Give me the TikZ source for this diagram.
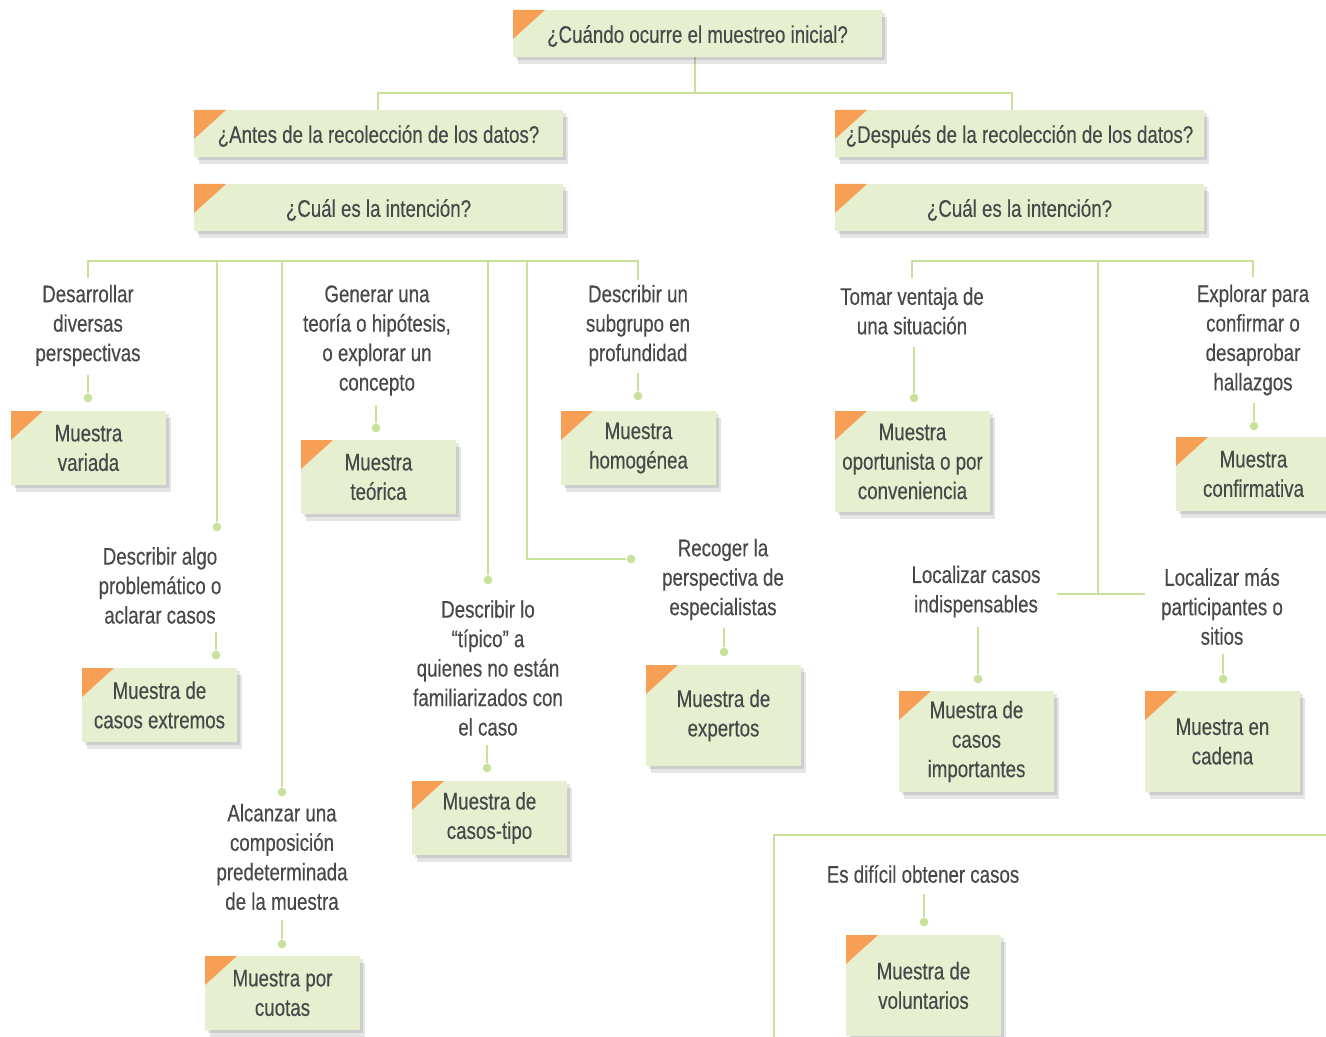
\documentclass[tikz,border=0pt]{standalone}
\usepackage{fontspec}
\setmainfont{Liberation Sans}[FakeStretch=0.78,FakeBold=0.3]
\usetikzlibrary{shadows}
\definecolor{lgreen}{RGB}{200,225,155}
\definecolor{boxfill}{RGB}{230,239,208}
\definecolor{corner}{RGB}{247,160,85}
\definecolor{txt}{RGB}{72,72,72}
\pgfdeclarelayer{paper}
\pgfdeclarelayer{bg}
\pgfsetlayers{paper,bg,main}
\begin{document}
\begin{tikzpicture}[x=0.75pt,y=-0.75pt,
  every node/.style={text=txt,font=\fontsize{18}{22.1}\selectfont},
  qbox/.style={fill=boxfill,minimum width=276.75pt,minimum height=35.25pt,inner sep=0pt,align=center,
    drop shadow={shadow xshift=2pt,shadow yshift=-2.5pt,fill=black,opacity=0.10},
    drop shadow={shadow xshift=4pt,shadow yshift=-5pt,fill=black,opacity=0.10},
    path picture={\fill[corner] (path picture bounding box.north west) -- ++(24pt,0pt) -- ++(-24pt,-21.75pt) -- cycle;}},
  qline/.style={qbox,text height=18pt,text depth=4pt},
  mbox/.style={qbox,minimum width=116.25pt,minimum height=55.5pt},
  mboxt/.style={qbox,minimum width=116.25pt,minimum height=75.75pt},
  lbl/.style={align=center,inner sep=0pt},
  dot/.style={circle,fill=lgreen,inner sep=0pt,minimum size=6.5pt},
  conn/.style={draw=lgreen,line width=2pt}
]
\useasboundingbox (0,0) rectangle (1326,1037);
\begin{pgfonlayer}{paper}
\fill[white] (0,0) rectangle (1326,1037);
\end{pgfonlayer}

% question boxes
\node[qline] (q0) at (697.5,33.5) {¿Cuándo ocurre el muestreo inicial?};
\node[qline] (qa) at (378.5,133.5) {¿Antes de la recolección de los datos?};
\node[qline] (qb) at (378.5,207.5) {¿Cuál es la intención?};
\node[qline] (qc) at (1019.5,133.5) {¿Después de la recolección de los datos?};
\node[qline] (qd) at (1019.5,207.5) {¿Cuál es la intención?};

% labels
\node[lbl] (t1) at (88,325.5) {Desarrollar\\diversas\\perspectivas};
\node[lbl] (t2) at (377,340.5) {Generar una\\teoría o hipótesis,\\o explorar un\\concepto};
\node[lbl] (t3) at (638,325.5) {Describir un\\subgrupo en\\profundidad};
\node[lbl] (t4) at (160,585.5) {Describir algo\\problemático o\\aclarar casos};
\node[lbl] (t5) at (282,857) {Alcanzar una\\composición\\predeterminada\\de la muestra};
\node[lbl] (t6) at (488,668) {Describir lo\\“típico” a\\quienes no están\\familiarizados con\\el caso};
\node[lbl] (t7) at (723,579.5) {Recoger la\\perspectiva de\\especialistas};
\node[lbl] (t8) at (912,311) {Tomar ventaja de\\una situación};
\node[lbl] (t9) at (1253,340) {Explorar para\\confirmar o\\desaprobar\\hallazgos};
\node[lbl] (t10) at (976,591.5) {Localizar casos\\indispensables};
\node[lbl] (t11) at (1222,606.5) {Localizar más\\participantes o\\sitios};
\node[lbl] (t12) at (923,874) {Es difícil obtener casos};

% sample boxes
\node[mbox] (b1) at (88.5,448) {Muestra\\variada};
\node[mbox] (b2) at (378.5,477) {Muestra\\teórica};
\node[mbox] (b3) at (638.5,448) {Muestra\\homogénea};
\node[mbox] (b4) at (159.5,705) {Muestra de\\casos extremos};
\node[mbox] (b5) at (282.5,993) {Muestra por\\cuotas};
\node[mbox] (b6) at (489.5,818) {Muestra de\\casos-tipo};
\node[mboxt] (b7) at (723.5,715.5) {Muestra de\\expertos};
\node[mboxt] (b8) at (912.5,461.5) {Muestra\\oportunista o por\\conveniencia};
\node[mbox] (b9) at (1253.5,474) {Muestra\\confirmativa};
\node[mboxt] (b10) at (976.5,741.5) {Muestra de\\casos\\importantes};
\node[mboxt] (b11) at (1222.5,741.5) {Muestra en\\cadena};
\node[mboxt] (b12) at (923.5,985.5) {Muestra de\\voluntarios};

% dots
\node[dot] (dA) at (217,527) {};
\node[dot] (dB) at (282,792) {};
\node[dot] (dC) at (488,580) {};
\node[dot] (dD) at (631,559) {};
\node[dot] (d1) at (88,398) {};
\node[dot] (d2) at (376,428) {};
\node[dot] (d3) at (638,396) {};
\node[dot] (d4) at (216,655) {};
\node[dot] (d5) at (282,944) {};
\node[dot] (d6) at (487,768) {};
\node[dot] (d7) at (724,652) {};
\node[dot] (d8) at (914,398) {};
\node[dot] (d9) at (1254,426) {};
\node[dot] (d10) at (978,679) {};
\node[dot] (d11) at (1223,679) {};
\node[dot] (d12) at (924,922) {};

% junction coordinates
\coordinate (j0) at (695,93);
\coordinate (ja) at (378,93);
\coordinate (jc) at (1012,93);
\coordinate (h1) at (88,261);
\coordinate (h2) at (217,261);
\coordinate (h3) at (282,261);
\coordinate (h4) at (488,261);
\coordinate (h5) at (527,261);
\coordinate (h6) at (638,261);
\coordinate (e1) at (88,278);
\coordinate (e6) at (638,280);
\coordinate (h7) at (912,261);
\coordinate (h8) at (1098,261);
\coordinate (h9) at (1253,261);
\coordinate (e7) at (912,278);
\coordinate (e9) at (1253,277);
\coordinate (m8) at (1098,594);
\coordinate (ml) at (1057,594);
\coordinate (mr) at (1145,594);
\coordinate (f0) at (774,1040);
\coordinate (f1) at (774,835);
\coordinate (f2) at (1330,835);

\begin{pgfonlayer}{bg}
\draw[conn] (q0.south -| j0) -- (j0);
\draw[conn] (qa.north -| ja) -- (ja) -- (jc) -- (qc.north -| jc);
% left tree
\draw[conn] (e1) -- (h1) -- (h6) -- (e6);
\draw[conn] (h2) -- (dA);
\draw[conn] (h3) -- (dB);
\draw[conn] (h4) -- (dC);
\draw[conn] (h5) |- (dD);
% right tree
\draw[conn] (e7) -- (h7) -- (h9) -- (e9);
\draw[conn] (h8) -- (m8);
\draw[conn] (ml) -- (mr);
% frame bottom right
\draw[conn] (f0) -- (f1) -- (f2);
% label to box connectors
\draw[conn] (d1) -- ++(0,-23);
\draw[conn] (d2) -- ++(0,-23);
\draw[conn] (d3) -- ++(0,-23);
\draw[conn] (d4) -- ++(0,-23);
\draw[conn] (d5) -- ++(0,-24);
\draw[conn] (d6) -- ++(0,-23);
\draw[conn] (d7) -- ++(0,-24);
\draw[conn] (d8) -- ++(0,-51);
\draw[conn] (d9) -- ++(0,-23);
\draw[conn] (d10) -- ++(0,-52);
\draw[conn] (d11) -- ++(0,-25);
\draw[conn] (d12) -- ++(0,-28);
\end{pgfonlayer}
\end{tikzpicture}
\end{document}
